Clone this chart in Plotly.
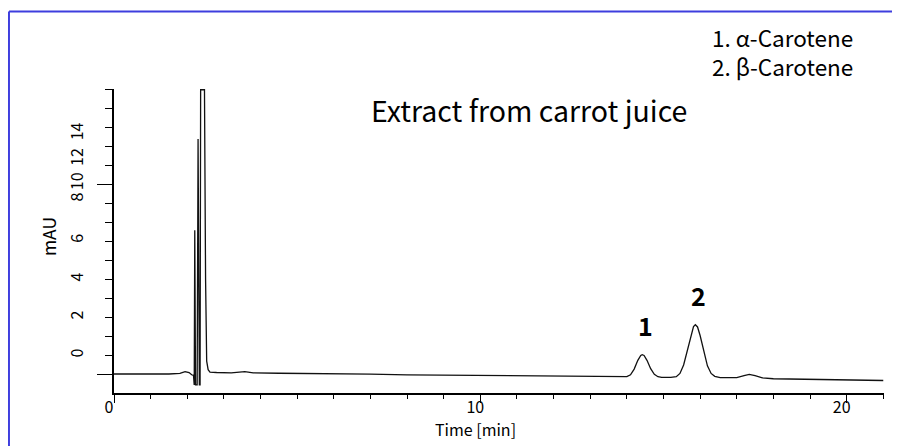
import plotly.graph_objects as go

# ---- data ----
time_min = [0.0, 0.5, 1.0, 1.5, 1.8, 1.94, 2.05, 2.12, 2.17, 2.19, 2.205, 2.225, 2.27, 2.295,
            2.33, 2.35, 2.365, 2.47, 2.50, 2.53, 2.57, 2.62, 2.8, 3.2, 3.57, 3.8, 4.5, 5.5,
            5.9, 6.3, 7.0, 8.0, 9.0, 10.0, 11.0, 12.0, 13.0, 13.5, 13.9, 14.0, 14.1, 14.2,
            14.3, 14.38, 14.42, 14.47, 14.55, 14.65, 14.75, 14.85, 14.95, 15.08, 15.2, 15.35,
            15.45, 15.55, 15.65, 15.75, 15.82, 15.87, 15.93, 16.0, 16.1, 16.2, 16.3, 16.4,
            16.55, 16.8, 17.0, 17.2, 17.34, 17.5, 17.7, 18.0, 18.5, 19.0, 19.5, 20.0, 20.5, 21.0]
signal_mau = [-0.98, -0.98, -0.99, -0.98, -0.95, -0.85, -0.90, -1.02, -1.05, -1.55, 6.6, -1.55,
              -1.55, 11.4, -1.55, -1.55, 14.0, 14.0, 4.0, -0.3, -0.75, -0.88, -0.90, -0.92,
              -0.85, -0.92, -0.94, -0.96, -0.93, -0.97, -0.99, -1.02, -1.04, -1.07, -1.08,
              -1.09, -1.10, -1.12, -1.14, -1.12, -1.02, -0.72, -0.26, 0.00, 0.04, 0.00, -0.26,
              -0.70, -1.00, -1.12, -1.16, -1.17, -1.16, -1.12, -0.95, -0.50, 0.25, 1.10, 1.52,
              1.62, 1.50, 1.05, 0.20, -0.55, -0.95, -1.10, -1.17, -1.19, -1.17, -1.06, -1.00,
              -1.07, -1.18, -1.23, -1.25, -1.27, -1.28, -1.30, -1.31, -1.32]

peak_labels = ["1", "2"]
peak_times = [14.42, 15.87]
peak_heights = [0.04, 1.62]

legend_lines = ["1. α-Carotene", "2. β-Carotene"]
chart_title = "Extract from carrot juice"

x_tick_vals = [0, 10, 20]
x_tick_text = ["0", "10", "20"]
y_tick_text = ["0", "2", "4", "6", "8", "10", "12", "14"]

# ---- layout helpers (positions of the crowded y labels as drawn in the reference) ----
y_label_pos = [0.0, 2.0, 4.0, 6.05, 8.22, 9.05, 10.33, 11.68]
y_long_ticks = [-1, 9]
y_minor_ticks = list(range(-1, 15))
x_range = [0, 21.02]
y_range = [-1.98, 14.04]

FONT = "Noto Sans CJK JP"
BLUE = "rgb(62,62,222)"

fig = go.Figure()
fig.add_trace(go.Scatter(x=time_min, y=signal_mau, mode="lines",
                         line=dict(color="#111111", width=1.3),
                         showlegend=False, hoverinfo="skip"))
fig.add_trace(go.Scatter(x=[], y=[], yaxis="y2", showlegend=False))

annotations = []
for lab, t, h in zip(peak_labels, peak_times, peak_heights):
    annotations.append(dict(x=t, y=h, xref="x", yref="y", text=f"<b>{lab}</b>",
                            showarrow=False, xanchor="center", yanchor="middle",
                            xshift=3, yshift=30, font=dict(size=25, color="black", family=FONT)))
annotations.append(dict(x=0.3307, y=0.931, xref="paper", yref="paper", text=chart_title,
                        showarrow=False, xanchor="left", yanchor="middle",
                        font=dict(size=28.5, color="black", family=FONT)))
annotations.append(dict(x=0.9623, y=1.122, xref="paper", yref="paper",
                        text="<br>".join(legend_lines), align="left",
                        showarrow=False, xanchor="right", yanchor="middle",
                        font=dict(size=22.5, color="black", family=FONT)))
annotations.append(dict(x=-0.085, y=0.5146, xref="paper", yref="paper", text="mAU",
                        textangle=-90, showarrow=False, xanchor="center", yanchor="middle",
                        font=dict(size=17.5, color="black", family=FONT)))
annotations.append(dict(x=0.469, y=-0.12, xref="paper", yref="paper", text="Time [min]",
                        showarrow=False, xanchor="center", yanchor="middle",
                        font=dict(size=16, color="black", family=FONT)))

shapes = [
    dict(type="line", xref="paper", yref="paper", x0=-0.1364, x1=-0.1364, y0=1.2547, y1=-0.2,
         line=dict(color=BLUE, width=2)),
    dict(type="line", xref="paper", yref="paper", x0=-0.1364, x1=1.031, y0=1.2547, y1=1.2547,
         line=dict(color=BLUE, width=2)),
]

fig.update_layout(
    width=900, height=446,
    margin=dict(l=106, r=24, t=81, b=61),
    paper_bgcolor="white", plot_bgcolor="white",
    font=dict(family=FONT, color="black", size=16),
    xaxis=dict(range=x_range, tickmode="array", tickvals=x_tick_vals, ticktext=x_tick_text,
               ticks="outside", ticklen=8, tickwidth=1.3, tickcolor="black",
               minor=dict(dtick=1, tick0=0, ticks="outside", ticklen=4, tickwidth=1.3,
                          tickcolor="black"),
               showline=True, linecolor="black", linewidth=1.5,
               showgrid=False, zeroline=False, ticklabelshift=-5, ticklabelstandoff=-9,
               tickfont=dict(size=16, family=FONT)),
    yaxis=dict(range=y_range, tickmode="array", tickvals=y_long_ticks,
               showticklabels=False, ticks="outside", ticklen=15, tickwidth=1.3,
               tickcolor="black",
               minor=dict(tickmode="array", tickvals=y_minor_ticks, ticks="outside",
                          ticklen=7, tickwidth=1.3, tickcolor="black"),
               showline=True, linecolor="black", linewidth=1.5,
               showgrid=False, zeroline=False),
    yaxis2=dict(range=y_range, overlaying="y", side="left", anchor="x",
                tickmode="array", tickvals=y_label_pos, ticktext=y_tick_text,
                ticks="", tickangle=-90, ticklabelstandoff=27,
                showline=False, showgrid=False, zeroline=False,
                tickfont=dict(size=16, family=FONT)),
    annotations=annotations,
    shapes=shapes,
)

fig.write_html("out.html")
